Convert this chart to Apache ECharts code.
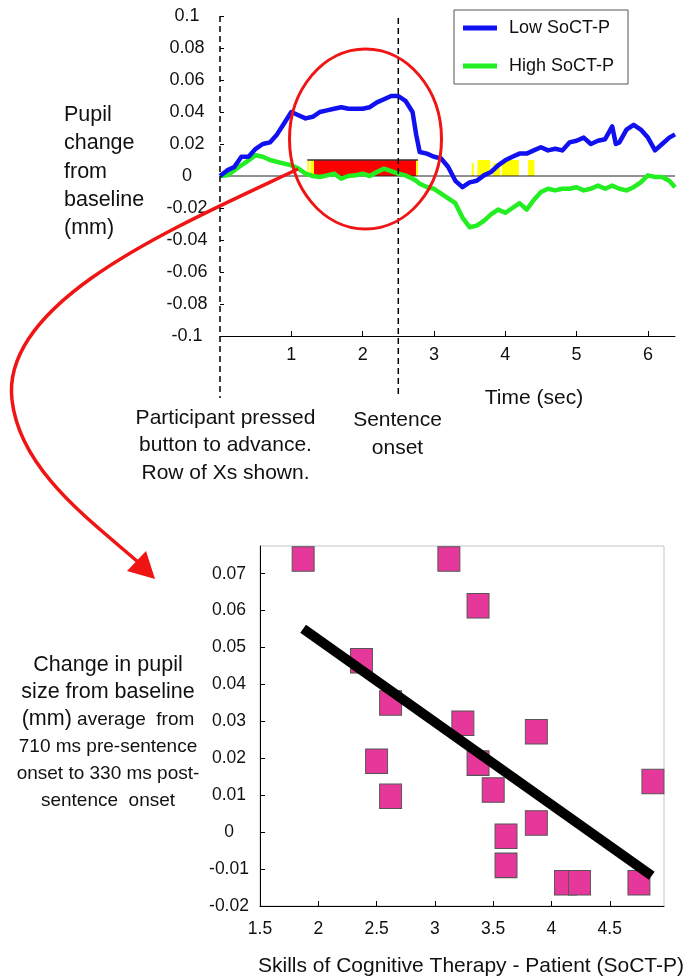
<!DOCTYPE html>
<html>
<head>
<meta charset="utf-8">
<script src="https://cdn.jsdelivr.net/npm/echarts@6.0.0/dist/echarts.min.js"></script>
<style>
  html, body { margin: 0; padding: 0; background: #fff; }
  #main { width: 686px; height: 977px; }
</style>
</head>
<body>
<div id="main"></div>
<script>
// ---- top panel: pupil change over time ----
const timeSec = [0, 0.1, 0.2, 0.3, 0.4, 0.5, 0.6, 0.7, 0.8, 0.9,
  1.0, 1.1, 1.2, 1.3, 1.4, 1.5, 1.6, 1.7, 1.8, 1.9,
  2.0, 2.1, 2.2, 2.3, 2.4, 2.5, 2.6, 2.7, 2.75, 2.8, 2.9,
  3.0, 3.1, 3.2, 3.3, 3.4, 3.5, 3.6, 3.7, 3.8, 3.9,
  4.0, 4.1, 4.2, 4.3, 4.4, 4.5, 4.6, 4.7, 4.8, 4.9,
  5.0, 5.1, 5.2, 5.3, 5.4, 5.5, 5.55, 5.6, 5.7, 5.8, 5.9,
  6.0, 6.1, 6.2, 6.3, 6.38];
const lowSoct = [0, 0.0035, 0.0056, 0.012, 0.012, 0.017, 0.020, 0.021, 0.026, 0.033,
  0.040, 0.038, 0.036, 0.037, 0.040, 0.041, 0.042, 0.043, 0.042, 0.042,
  0.042, 0.043, 0.046, 0.048, 0.050, 0.050, 0.047, 0.040, 0.026, 0.015, 0.014,
  0.012, 0.011, 0.0056, -0.003, -0.007, -0.004, -0.003, 0.0004, 0.0025, 0.0067,
  0.0098, 0.012, 0.014, 0.014, 0.016, 0.018, 0.016, 0.017, 0.016, 0.021,
  0.022, 0.024, 0.020, 0.022, 0.023, 0.031, 0.020, 0.021, 0.029, 0.032, 0.029,
  0.024, 0.016, 0.020, 0.024, 0.026];
const highSoct = [0, 0.0004, 0.0035, 0.0067, 0.0098, 0.013, 0.012, 0.010, 0.0088, 0.0077,
  0.0067, 0.0046, 0.0015, 0, -0.0006, 0.0004, 0.0015, -0.0017, 0, 0.0004,
  0.0015, 0, 0.0025, 0.0046, 0.003, 0.0015, 0.0004, -0.0017, -0.003, -0.0048, -0.0069,
  -0.008, -0.011, -0.014, -0.017, -0.026, -0.032, -0.031, -0.028, -0.024, -0.021,
  -0.023, -0.020, -0.017, -0.021, -0.015, -0.010, -0.008, -0.009, -0.008, -0.008,
  -0.007, -0.009, -0.008, -0.006, -0.008, -0.006, -0.007, -0.008, -0.009, -0.007, -0.004,
  0.0004, -0.0006, -0.0006, -0.003, -0.007];

// significance bands: [start sec, end sec, height]
const redBands = [[1.318, 2.749, 0.01]];
const yellowBands = [[1.224, 1.25, 0.01], [1.27, 1.318, 0.01], [2.749, 2.777, 0.01],
  [3.53, 3.56, 0.008], [3.61, 3.79, 0.01], [3.83, 3.93, 0.008],
  [3.95, 4.19, 0.01], [4.32, 4.41, 0.01]];
const capX = [1.224, 2.777];
const capY = [0.01, 0.01];

// ---- bottom panel: scatter ----
const soctScore = [1.87, 3.12, 3.37, 2.37, 2.62, 3.24, 3.87, 2.50, 3.37,
  2.62, 3.50, 4.87, 3.87, 3.61, 3.61, 4.12, 4.24, 4.75];
const pupilAvg = [0.074, 0.074, 0.0613, 0.0464, 0.035, 0.0295, 0.0272, 0.0192, 0.0187,
  0.0097, 0.0114, 0.0137, 0.0025, -0.0011, -0.009, -0.0137, -0.0137, -0.0137];
const fitX = [1.87, 4.86];
const fitY = [0.0551, -0.0118];

const FONT = '"Liberation Sans", Arial, sans-serif';
const fmt = v => String(+v.toFixed(3));

function bandItem(params, api) {
  const a = api.coord([api.value(0), api.value(2)]);
  const b = api.coord([api.value(1), 0]);
  return {
    type: 'rect',
    shape: {x: a[0], y: a[1], width: b[0] - a[0], height: b[1] - a[1]},
    style: {fill: api.visual('color')}
  };
}

const chart = echarts.init(document.getElementById('main'), null, {renderer: 'canvas'});

const option = {
  animation: false,
  textStyle: {fontFamily: FONT},
  grid: [
    {left: 220, top: 16, width: 455, height: 320, outerBoundsMode: 'none'},
    {left: 260, top: 546, width: 404, height: 360, outerBoundsMode: 'none',
      show: true, borderColor: '#c4c4c4', borderWidth: 1}
  ],
  legend: {
    data: ['Low SoCT-P', 'High SoCT-P'],
    orient: 'vertical',
    left: 454, top: 10,
    padding: [9, 14, 9, 9],
    itemWidth: 34, itemHeight: 5, itemGap: 20,
    icon: 'rect',
    borderColor: '#555', borderWidth: 1,
    textStyle: {fontSize: 18, color: '#111', fontFamily: FONT, padding: [0, 0, 0, 7]}
  },
  xAxis: [
    {
      gridIndex: 0, type: 'value', min: 0, max: 6.38, interval: 1,
      axisLine: {onZero: false, lineStyle: {color: '#000', width: 1}},
      axisTick: {inside: true, length: 5, lineStyle: {color: '#000'}},
      axisLabel: {showMinLabel: false, showMaxLabel: false, fontSize: 18, color: '#111', margin: 10},
      splitLine: {show: false}
    },
    {
      gridIndex: 1, type: 'value', min: 1.5, max: 4.965, interval: 0.5,
      axisLine: {onZero: false, lineStyle: {color: '#000', width: 1}},
      axisTick: {inside: true, length: 5, lineStyle: {color: '#000'}},
      axisLabel: {showMaxLabel: false, fontSize: 17.5, color: '#111', margin: 14, formatter: fmt},
      splitLine: {show: false}
    }
  ],
  yAxis: [
    {
      gridIndex: 0, type: 'value', min: -0.1, max: 0.1, interval: 0.02,
      axisLine: {show: false, onZero: false},
      axisTick: {show: true, inside: true, length: 4, lineStyle: {color: '#000'}},
      axisLabel: {fontSize: 18, color: '#111', align: 'center', margin: 33, formatter: fmt},
      splitLine: {show: false}
    },
    {
      gridIndex: 1, type: 'value', min: -0.02, max: 0.0775, interval: 0.01,
      axisLine: {show: true, onZero: false, lineStyle: {color: '#000', width: 1}},
      axisTick: {show: true, inside: true, length: 5, lineStyle: {color: '#000'}},
      axisLabel: {showMaxLabel: false, fontSize: 17.5, color: '#111', align: 'center', margin: 31, formatter: fmt},
      splitLine: {show: false}
    }
  ],
  series: [
    {
      name: 'red', type: 'custom', xAxisIndex: 0, yAxisIndex: 0,
      renderItem: bandItem, encode: {x: [0, 1], y: 2},
      itemStyle: {color: '#ff0000'}, data: redBands, z: 1, silent: true
    },
    {
      name: 'yellow', type: 'custom', xAxisIndex: 0, yAxisIndex: 0,
      renderItem: bandItem, encode: {x: [0, 1], y: 2},
      itemStyle: {color: '#ffff00'}, data: yellowBands, z: 1, silent: true
    },
    {
      name: 'zero', type: 'line', xAxisIndex: 0, yAxisIndex: 0,
      data: [[0, 0], [6.38, 0]], symbol: 'none',
      lineStyle: {color: '#222', width: 1}, z: 2, silent: true
    },
    {
      name: 'cap', type: 'line', xAxisIndex: 0, yAxisIndex: 0,
      data: capX.map((x, i) => [x, capY[i]]), symbol: 'none',
      lineStyle: {color: '#333', width: 1.5}, z: 2, silent: true
    },
    {
      name: 'High SoCT-P', type: 'line', xAxisIndex: 0, yAxisIndex: 0,
      data: timeSec.map((t, i) => [t, highSoct[i]]),
      symbol: 'none', color: '#22ee22',
      lineStyle: {color: '#22ee22', width: 4.5, join: 'round'}, z: 3
    },
    {
      name: 'Low SoCT-P', type: 'line', xAxisIndex: 0, yAxisIndex: 0,
      data: timeSec.map((t, i) => [t, lowSoct[i]]),
      symbol: 'none', color: '#1010f0',
      lineStyle: {color: '#1010f0', width: 4.5, join: 'round'}, z: 4
    },
    {
      name: 'patients', type: 'scatter', xAxisIndex: 1, yAxisIndex: 1,
      data: soctScore.map((x, i) => [x, pupilAvg[i]]),
      symbol: 'rect', symbolSize: [22, 24.5], clip: false,
      itemStyle: {color: '#e6379b', borderColor: '#555', borderWidth: 1, opacity: 1}, z: 3
    },
    {
      name: 'fit', type: 'line', xAxisIndex: 1, yAxisIndex: 1,
      data: fitX.map((x, i) => [x, fitY[i]]), symbol: 'none',
      lineStyle: {color: '#000', width: 10, cap: 'butt'}, z: 4, silent: true
    }
  ]
};

chart.setOption(option);

// annotations placed from the axes
const xStart = chart.convertToPixel({xAxisIndex: 0}, 0);
const xOnset = chart.convertToPixel({xAxisIndex: 0}, 2.5);
const yTop = chart.convertToPixel({yAxisIndex: 0}, 0.1);
const red = '#f01414';

chart.setOption({
  graphic: [
    {type: 'line', z: 50, shape: {x1: xStart, y1: yTop, x2: xStart, y2: 398},
      style: {stroke: '#000', lineWidth: 1.5, lineDash: [6, 4]}},
    {type: 'line', z: 50, shape: {x1: xOnset, y1: yTop + 2, x2: xOnset, y2: 398},
      style: {stroke: '#000', lineWidth: 1.5, lineDash: [6, 4]}},
    {type: 'ellipse', z: 60, shape: {cx: 365.5, cy: 139, rx: 76, ry: 90},
      style: {fill: 'none', stroke: red, lineWidth: 3}},
    {type: 'bezierCurve', z: 60,
      shape: {x1: 298, y1: 169, cpx1: 180, cpy1: 225, cpx2: 0, cpy2: 300, x2: 12, y2: 400},
      style: {fill: 'none', stroke: red, lineWidth: 3.5}},
    {type: 'bezierCurve', z: 60,
      shape: {x1: 12, y1: 400, cpx1: 20, cpy1: 470, cpx2: 90, cpy2: 520, x2: 138, y2: 562},
      style: {fill: 'none', stroke: red, lineWidth: 3.5}},
    {type: 'polygon', z: 60,
      shape: {points: [[155, 579], [127, 571], [146, 551]]},
      style: {fill: red}},
    {type: 'text', z: 40, style: {
      x: 64, y: 101, text: 'Pupil\nchange\nfrom\nbaseline\n(mm)',
      font: '21.5px ' + FONT, fill: '#111', lineHeight: 28.3,
      align: 'left', verticalAlign: 'top'}},
    {type: 'text', z: 40, style: {
      x: 534, y: 398, text: 'Time (sec)', font: '21px ' + FONT, fill: '#111',
      align: 'center', verticalAlign: 'middle'}},
    {type: 'text', z: 40, style: {
      x: 225.5, y: 404, text: 'Participant pressed\nbutton to advance.\nRow of Xs shown.',
      font: '21px ' + FONT, fill: '#111', lineHeight: 27.5,
      align: 'center', verticalAlign: 'top'}},
    {type: 'text', z: 40, style: {
      x: 397.5, y: 406, text: 'Sentence\nonset', font: '21px ' + FONT, fill: '#111',
      lineHeight: 28, align: 'center', verticalAlign: 'top'}},
    {type: 'text', z: 40, style: {
      x: 108, y: 652,
      text: '{a|Change in pupil}\n{a|size from baseline}\n{a|(mm)}{b| average  from}\n{b|710 ms pre-sentence}\n{b|onset to 330 ms post-}\n{b|sentence  onset}',
      rich: {
        a: {fontSize: 21.5, lineHeight: 27, fontFamily: FONT, fill: '#111'},
        b: {fontSize: 19, lineHeight: 27, fontFamily: FONT, fill: '#111'}
      },
      fill: '#111', align: 'center', verticalAlign: 'top'}},
    {type: 'text', z: 40, style: {
      x: 471, y: 966, text: 'Skills of Cognitive Therapy - Patient (SoCT-P)',
      font: '21px ' + FONT, fill: '#111', align: 'center', verticalAlign: 'middle'}}
  ]
});
</script>
</body>
</html>
